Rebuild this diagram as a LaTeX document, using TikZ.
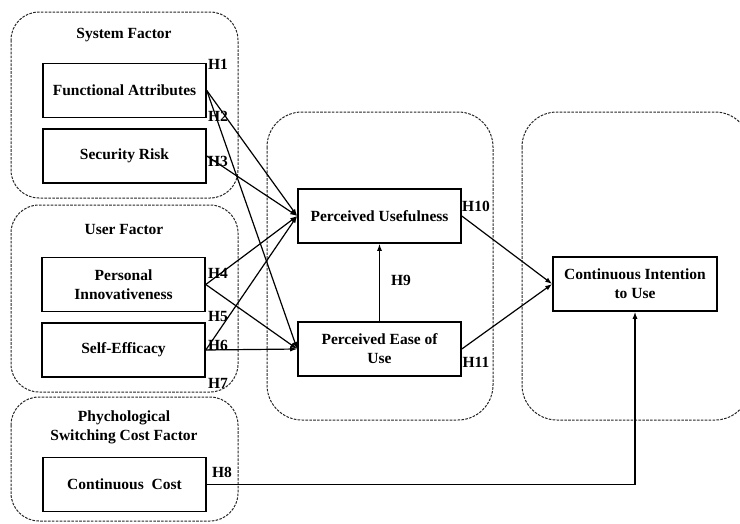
\documentclass[tikz,border=0pt]{standalone}
\usepackage{fontspec}
\setmainfont{Liberation Serif}
\usetikzlibrary{arrows.meta}
\begin{document}
\begin{tikzpicture}[x=1pt,y=-1pt,
  every node/.style={font=\fontsize{15.5}{19}\selectfont\bfseries},
  grp/.style={draw=black!85, line width=1pt, dash pattern=on 2.6pt off 1.3pt, rounded corners=28pt},
  biggrp/.style={grp, rounded corners=35pt},
  var/.style={draw, line width=1.6pt, minimum width=163pt, minimum height=54pt, inner sep=0pt, align=center},
  hyp/.style={inner sep=0pt},
  ttl/.style={inner sep=0pt, align=center},
  conn/.style={line width=1.2pt, -{Latex[length=7pt,width=5pt]}}]
\useasboundingbox (0,0) rectangle (740,523);
% groups
\draw[grp] (11,12) rectangle (238,198);
\draw[grp] (11,205) rectangle (238,392);
\draw[grp] (11,397) rectangle (238,521);
\draw[biggrp] (267,112) rectangle (493,420);
\draw[biggrp] (522,112) rectangle (750,420);
% titles
\node[ttl] (t1) at (124,35) {System Factor};
\node[ttl] (t2) at (124,229) {User Factor};
\node[ttl] (t3) at (124,427) {Phychological\\Switching Cost Factor};
% variables
\node[var] (fa) at (124.5,90.5) {Functional Attributes};
\node[var] (sr) at (124.5,156) {Security Risk};
\node[var] (pi) at (123.5,284.5) {Personal\\Innovativeness};
\node[var] (se) at (123.5,350) {Self-Efficacy};
\node[var] (cc) at (124.5,484.5) {Continuous\ \ Cost};
\node[var] (pu) at (379.5,216) {Perceived Usefulness};
\node[var] (peou) at (379.5,349) {Perceived Ease of\\Use};
\node[var, minimum width=164pt] (ciu) at (635,284) {Continuous Intention\\to Use};
% connectors
\draw[conn] (fa.east) -- (pu.west);
\draw[conn] (fa.east) -- (peou.west);
\draw[conn] (sr.east) -- (pu.west);
\draw[conn] (pi.east) -- (pu.west);
\draw[conn] (pi.east) -- (peou.west);
\draw[conn] (se.east) -- (pu.west);
\draw[conn] (se.east) -- (peou.west);
\draw[conn] (peou.north) -- (pu.south);
\draw[conn] (pu.east) -- (ciu.west);
\draw[conn] (peou.east) -- (ciu.west);
\draw[conn] (cc.east) -| (ciu.south);
% hypothesis labels
\node[hyp] (h1) at (218,64) {H1};
\node[hyp] (h2) at (218,116) {H2};
\node[hyp] (h3) at (218,161) {H3};
\node[hyp] (h4) at (218,273) {H4};
\node[hyp] (h5) at (218,316) {H5};
\node[hyp] (h6) at (218,345) {H6};
\node[hyp] (h7) at (218,383) {H7};
\node[hyp] (h8) at (222,472) {H8};
\node[hyp] (h9) at (401,280) {H9};
\node[hyp] (h10) at (476,206) {H10};
\node[hyp] (h11) at (476,362) {H11};
\end{tikzpicture}
\end{document}
